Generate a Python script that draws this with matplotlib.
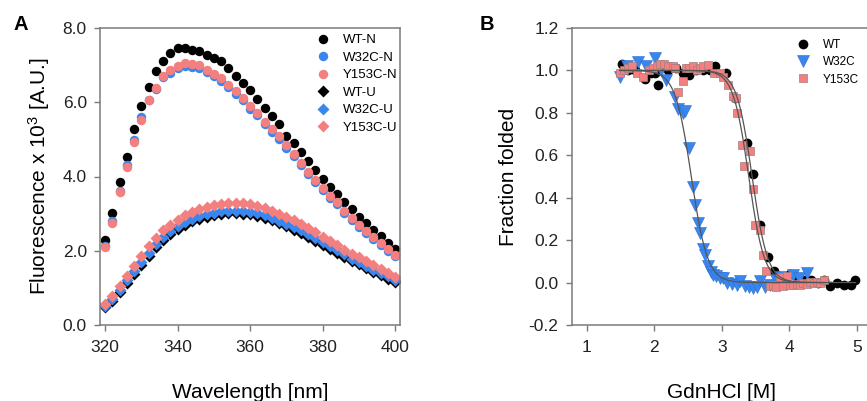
import numpy as np
import matplotlib
matplotlib.use("Agg")
from matplotlib import pyplot as plt

plt.rcParams['font.family'] = ['Liberation Sans', 'DejaVu Sans']
plt.rcParams['mathtext.fontset'] = 'custom'
plt.rcParams['mathtext.rm'] = 'Liberation Sans'
plt.rcParams['mathtext.it'] = 'Liberation Sans:italic'

# ---- panel A data: emission spectra (fluorescence x 10^3) ----
wavelength = list(range(320, 402, 2))
wt_n = [2.29, 3.01, 3.84, 4.52, 5.28, 5.91, 6.41, 6.83, 7.11, 7.33, 7.46,
        7.47, 7.40, 7.37, 7.28, 7.19, 7.10, 6.92, 6.70, 6.52, 6.32, 6.09,
        5.84, 5.62, 5.41, 5.08, 4.90, 4.67, 4.43, 4.18, 3.93, 3.71, 3.52,
        3.31, 3.13, 2.92, 2.76, 2.56, 2.40, 2.22, 2.04]
w32c_n = [2.14, 2.80, 3.62, 4.30, 4.98, 5.59, 6.06, 6.37, 6.67, 6.80, 6.92,
          6.97, 6.96, 6.93, 6.82, 6.71, 6.58, 6.41, 6.23, 6.05, 5.83, 5.65,
          5.42, 5.21, 5.01, 4.78, 4.54, 4.30, 4.07, 3.85, 3.63, 3.43, 3.25,
          3.03, 2.84, 2.65, 2.48, 2.32, 2.16, 2.00, 1.85]
y153c_n = [2.11, 2.76, 3.57, 4.25, 4.92, 5.53, 6.05, 6.38, 6.71, 6.86, 6.97,
           7.06, 7.04, 7.01, 6.88, 6.77, 6.65, 6.47, 6.29, 6.11, 5.89, 5.71,
           5.48, 5.28, 5.08, 4.85, 4.61, 4.36, 4.13, 3.91, 3.69, 3.48, 3.30,
           3.08, 2.88, 2.70, 2.52, 2.36, 2.20, 2.04, 1.89]
wt_u = [0.48, 0.65, 0.88, 1.12, 1.37, 1.62, 1.87, 2.10, 2.30, 2.46, 2.59,
        2.70, 2.79, 2.86, 2.92, 2.96, 2.99, 3.01, 3.01, 3.00, 2.98, 2.94,
        2.89, 2.82, 2.74, 2.66, 2.57, 2.48, 2.38, 2.27, 2.16, 2.05, 1.94,
        1.84, 1.73, 1.63, 1.53, 1.43, 1.34, 1.25, 1.16]
w32c_u = [0.52, 0.70, 0.95, 1.20, 1.45, 1.70, 1.95, 2.18, 2.38, 2.53, 2.66,
          2.77, 2.86, 2.93, 2.99, 3.03, 3.06, 3.08, 3.08, 3.07, 3.05, 3.01,
          2.96, 2.89, 2.81, 2.73, 2.64, 2.55, 2.45, 2.34, 2.23, 2.12, 2.01,
          1.90, 1.79, 1.69, 1.59, 1.49, 1.40, 1.31, 1.22]
y153c_u = [0.57, 0.78, 1.05, 1.33, 1.60, 1.85, 2.12, 2.35, 2.55, 2.70, 2.84,
           2.96, 3.05, 3.12, 3.18, 3.23, 3.26, 3.28, 3.29, 3.28, 3.26, 3.21,
           3.15, 3.07, 2.98, 2.90, 2.82, 2.72, 2.62, 2.50, 2.38, 2.27, 2.15,
           2.03, 1.92, 1.82, 1.72, 1.62, 1.51, 1.40, 1.30]

# ---- panel B data: GdnHCl denaturation ----
wt_x = [1.52, 1.62, 1.72, 1.86, 1.95, 2.01, 2.06, 2.20, 2.32, 2.42, 2.52,
        2.62, 2.73, 2.83, 2.90, 3.06, 3.20, 3.38, 3.46, 3.57, 3.68, 3.77,
        3.90, 4.01, 4.12, 4.21, 4.32, 4.42, 4.51, 4.60, 4.71, 4.81, 4.91, 4.98]
wt_y = [1.03, 1.00, 1.00, 0.96, 0.99, 0.99, 0.93, 1.00, 1.01, 0.99, 0.98,
        1.00, 1.00, 1.00, 1.02, 0.99, 0.87, 0.66, 0.51, 0.27, 0.12, 0.055,
        0.02, 0.04, 0.02, 0.01, 0.01, 0.00, 0.01, -0.016, 0.00, -0.013, -0.01, 0.01]
w32c_x = [1.49, 1.60, 1.76, 1.88, 2.01, 2.10, 2.18, 2.31, 2.36, 2.42, 2.46,
          2.51, 2.57, 2.60, 2.65, 2.68, 2.72, 2.75, 2.80, 2.84, 2.87, 2.92,
          2.97, 3.02, 3.08, 3.15, 3.22, 3.27, 3.34, 3.40, 3.47, 3.52, 3.57,
          3.64, 3.72, 3.80, 3.86, 3.95, 4.06, 4.15, 4.26]
w32c_y = [0.97, 1.02, 1.04, 1.02, 1.06, 1.00, 0.955, 0.876, 0.82, 0.80, 0.81,
          0.633, 0.452, 0.366, 0.28, 0.235, 0.16, 0.13, 0.078, 0.05, 0.036, 0.03,
          0.02, 0.02, 0.00, -0.007, -0.01, 0.009, -0.016, -0.02, -0.027, -0.02, 0.009,
          -0.02, -0.01, 0.01, 0.028, 0.015, 0.036, 0.02, 0.044]
y153c_x = [1.49, 1.55, 1.62, 1.67, 1.74, 1.84, 1.92, 1.98, 2.04, 2.09, 2.14,
           2.20, 2.28, 2.31, 2.36, 2.42, 2.47, 2.52, 2.58, 2.63, 2.68, 2.73,
           2.80, 2.88, 2.98, 3.02, 3.10, 3.17, 3.21, 3.23, 3.30, 3.33, 3.42,
           3.46, 3.49, 3.56, 3.61, 3.66, 3.72, 3.76, 3.81, 3.86, 3.91, 3.96,
           4.01, 4.06, 4.11, 4.16, 4.21, 4.26, 4.31, 4.36, 4.41, 4.46, 4.51]
y153c_y = [0.99, 1.00, 1.01, 1.02, 0.99, 0.97, 1.00, 1.01, 1.02, 1.03, 1.03,
           1.02, 1.02, 1.01, 0.90, 0.95, 1.01, 1.01, 1.02, 1.00, 1.01, 1.02,
           1.025, 0.99, 0.99, 0.97, 0.93, 0.88, 0.87, 0.80, 0.65, 0.55, 0.62,
           0.44, 0.27, 0.25, 0.13, 0.055, -0.017, -0.01, -0.02, 0.027, -0.017, 0.03,
           -0.013, -0.01, -0.005, -0.01, 0.00, -0.005, 0.003, 0.00, 0.005, 0.00, 0.01]

# two-state fit parameters: midpoint Cm [M], width [M], x range
fit_names = ['WT', 'W32C', 'Y153C']
fit_cm = [3.45, 2.55, 3.40]
fit_w = [0.115, 0.12, 0.115]
fit_lo = [1.50, 1.49, 1.49]
fit_hi = [4.98, 4.26, 4.51]

black = '#000000'
blue = '#3a86ef'
pink = '#f47f7f'
spine_col = '#7a7a7a'

fig = plt.figure(figsize=(8.67, 4.01), dpi=100)
axA = fig.add_axes([100 / 867, 1 - 325 / 401, 299.5 / 867, 297 / 401])
axB = fig.add_axes([571.7 / 867, 1 - 325 / 401, 300 / 867, 297 / 401])

# panel A
axA.plot(wavelength, wt_n, 'o', ms=6.8, color=black, mec='none', label='WT-N')
axA.plot(wavelength, w32c_n, 'o', ms=6.8, color=blue, mec='none', label='W32C-N')
axA.plot(wavelength, y153c_n, 'o', ms=6.8, color=pink, mec='none', label='Y153C-N')
axA.plot(wavelength, wt_u, 'D', ms=5.8, color=black, mec='none', label='WT-U')
axA.plot(wavelength, w32c_u, 'D', ms=5.8, color=blue, mec='none', label='W32C-U')
axA.plot(wavelength, y153c_u, 'D', ms=5.8, color=pink, mec='none', label='Y153C-U')
axA.set_xlim(318.6, 401.2)
axA.set_ylim(0, 8)
axA.set_xticks([320, 340, 360, 380, 400])
axA.set_yticks([0, 2, 4, 6, 8])
axA.set_yticklabels(['0.0', '2.0', '4.0', '6.0', '8.0'])
axA.set_xlabel('Wavelength [nm]', fontsize=15, labelpad=20)
axA.set_ylabel('Fluorescence x 10$^{3}$ [A.U.]', fontsize=15, labelpad=8)
axA.legend(loc='upper left', bbox_to_anchor=(0.7237, 0.98), frameon=False,
           fontsize=9.5, handlelength=1.0, handletextpad=0.98, labelspacing=0.4,
           borderpad=0, borderaxespad=0)

# panel B
fit_cols = ['#555555', '#555555', '#555555']
for name, cm, w, lo, hi, c in zip(fit_names, fit_cm, fit_w, fit_lo, fit_hi, fit_cols):
    xs = np.linspace(lo, hi, 300)
    axB.plot(xs, 1 / (1 + np.exp((xs - cm) / w)), '-', color=c, lw=0.9, zorder=3)
axB.plot(wt_x, wt_y, 'o', ms=7, color=black, mec='none', label='WT', zorder=2)
axB.plot(w32c_x, w32c_y, 'v', ms=8, color=blue, mec='#2a6fd0', mew=0.4,
         label='W32C', zorder=2)
axB.plot(y153c_x, y153c_y, 's', ms=6.4, color=pink, mec='#a08080', mew=0.5,
         label='Y153C', zorder=2)
axB.set_xlim(0.78, 5.22)
axB.set_ylim(-0.2, 1.2)
axB.set_xticks([1, 2, 3, 4, 5])
axB.set_yticks([-0.2, 0.0, 0.2, 0.4, 0.6, 0.8, 1.0, 1.2])
axB.set_yticklabels(['-0.2', '0.0', '0.2', '0.4', '0.6', '0.8', '1.0', '1.2'])
axB.set_xlabel('GdnHCl [M]', fontsize=15, labelpad=20)
axB.set_ylabel('Fraction folded', fontsize=15, labelpad=8)
axB.legend(loc='upper left', bbox_to_anchor=(0.751, 0.963), frameon=False,
           fontsize=8.5, handlelength=1.0, handletextpad=1.2, labelspacing=0.45,
           borderpad=0, borderaxespad=0)

for ax in (axA, axB):
    for s in ax.spines.values():
        s.set_color(spine_col)
        s.set_linewidth(1.1)
    ax.tick_params(direction='out', length=4, width=1, color=spine_col,
                   labelsize=12.5, labelcolor='#222222', pad=5.5)
    ax.tick_params(axis='x', pad=7)

fig.text(13 / 867, 1 - 30 / 401, 'A', fontsize=14.5, fontweight='bold')
fig.text(480 / 867, 1 - 30 / 401, 'B', fontsize=14.5, fontweight='bold')

fig.savefig('out.png', dpi=100)
